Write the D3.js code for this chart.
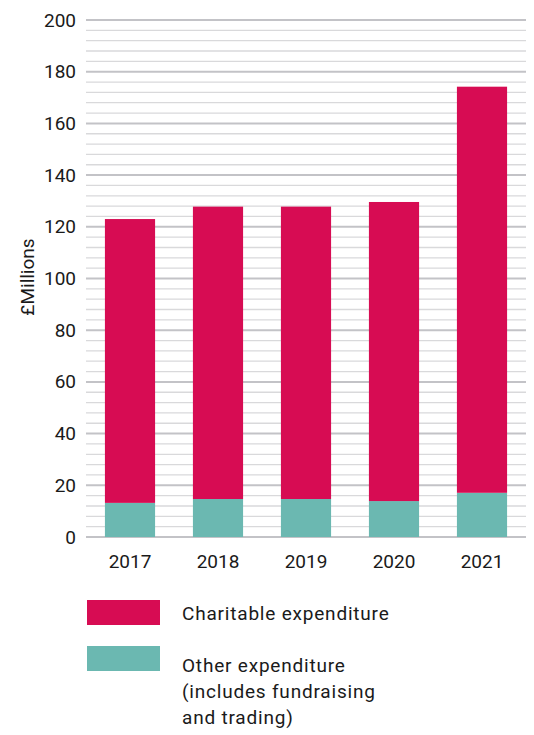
<!DOCTYPE html>
<html>
<head>
<meta charset="utf-8">
<script src="https://cdn.jsdelivr.net/npm/d3@7"></script>
<style>
body { margin: 0; background: #fff; }
text { font-family: Roboto, "Open Sans", sans-serif; fill: #1a1a1a; }
</style>
</head>
<body>
<div id="chart"></div>
<script>
const years = ['2017', '2018', '2019', '2020', '2021']
const other = [13.2, 14.7, 14.7, 13.9, 17.1]
const charitable = [109.8, 113.1, 113.1, 115.7, 157.1]
const yTicks = [0, 20, 40, 60, 80, 100, 120, 140, 160, 180, 200]
const legendLabels = [['Charitable expenditure'], ['Other expenditure', '(includes fundraising', 'and trading)']]

const colors = ['#d70c53', '#6bb8b1']
const width = 534, height = 735
const margin = { top: 20, left: 86, right: 8, bottom: 198 }

let svg = d3.select('#chart')
.append('svg')
.attr('width', width)
.attr('height', height)

let x = d3.scaleBand()
.domain(years)
.range([margin.left, width - margin.right])
.paddingInner(0.43)
.paddingOuter(0.215)

let y = d3.scaleLinear()
.domain([0, 200])
.range([height - margin.bottom, margin.top])

// minor gridlines every 4
svg.append('g')
.selectAll('line')
.data(d3.range(0, 201, 4).filter(v => v % 20 != 0))
.join('line')
.attr('x1', margin.left).attr('x2', width - margin.right)
.attr('y1', d => y(d)).attr('y2', d => y(d))
.style('stroke', '#d9d9db')
.style('stroke-width', 1.3)

// major gridlines
svg.append('g')
.selectAll('line')
.data(yTicks)
.join('line')
.attr('x1', margin.left).attr('x2', width - margin.right)
.attr('y1', d => y(d)).attr('y2', d => y(d))
.style('stroke', '#c3c3c7')
.style('stroke-width', 2)

let stackData = years.map((yr, i) => ({ year: yr, other: other[i], charitable: charitable[i] }))
let series = d3.stack().keys(['other', 'charitable'])(stackData)

svg.append('g')
.selectAll('g')
.data(series)
.join('g')
.style('fill', (d, i) => colors[1 - i])
.selectAll('rect')
.data(d => d)
.join('rect')
.attr('x', d => x(d.data.year))
.attr('width', x.bandwidth())
.attr('y', d => y(d[1]))
.attr('height', d => y(d[0]) - y(d[1]))

// y axis labels
let yAxis = svg.append('g')
.attr('transform', `translate(${margin.left - 10}, 0)`)
.call(d3.axisLeft(y).tickValues(yTicks).tickSize(0).tickPadding(0))
yAxis.select('.domain').remove()
yAxis.selectAll('text')
.style('font-size', '19px')
.style('fill', '#1a1a1a')

let xAxis = svg.append('g')
.attr('transform', `translate(0, ${height - margin.bottom + 17.5})`)
.call(d3.axisBottom(x).tickSize(0).tickPadding(0))
xAxis.select('.domain').remove()
xAxis.selectAll('text')
.style('font-size', '19px')
.style('fill', '#1a1a1a')

svg.append('text')
.attr('transform', `translate(34, 277) rotate(-90)`)
.attr('text-anchor', 'middle')
.style('font-size', '19px')
.text('£Millions')

// legend
let legend = svg.append('g')
.selectAll('g')
.data(legendLabels)
.join('g')
.attr('transform', (d, i) => `translate(87, ${600 + i * 46})`)

legend.append('rect')
.attr('width', 73)
.attr('height', 25)
.style('fill', (d, i) => colors[i])

legend.append('text')
.style('font-size', '19px')
.style('letter-spacing', '0.8px')
.selectAll('tspan')
.data(d => d)
.join('tspan')
.attr('x', 95)
.attr('y', (d, i) => (d == 'Charitable expenditure' ? 20 : 26) + i * 26)
.text(d => d)
</script>
</body>
</html>
